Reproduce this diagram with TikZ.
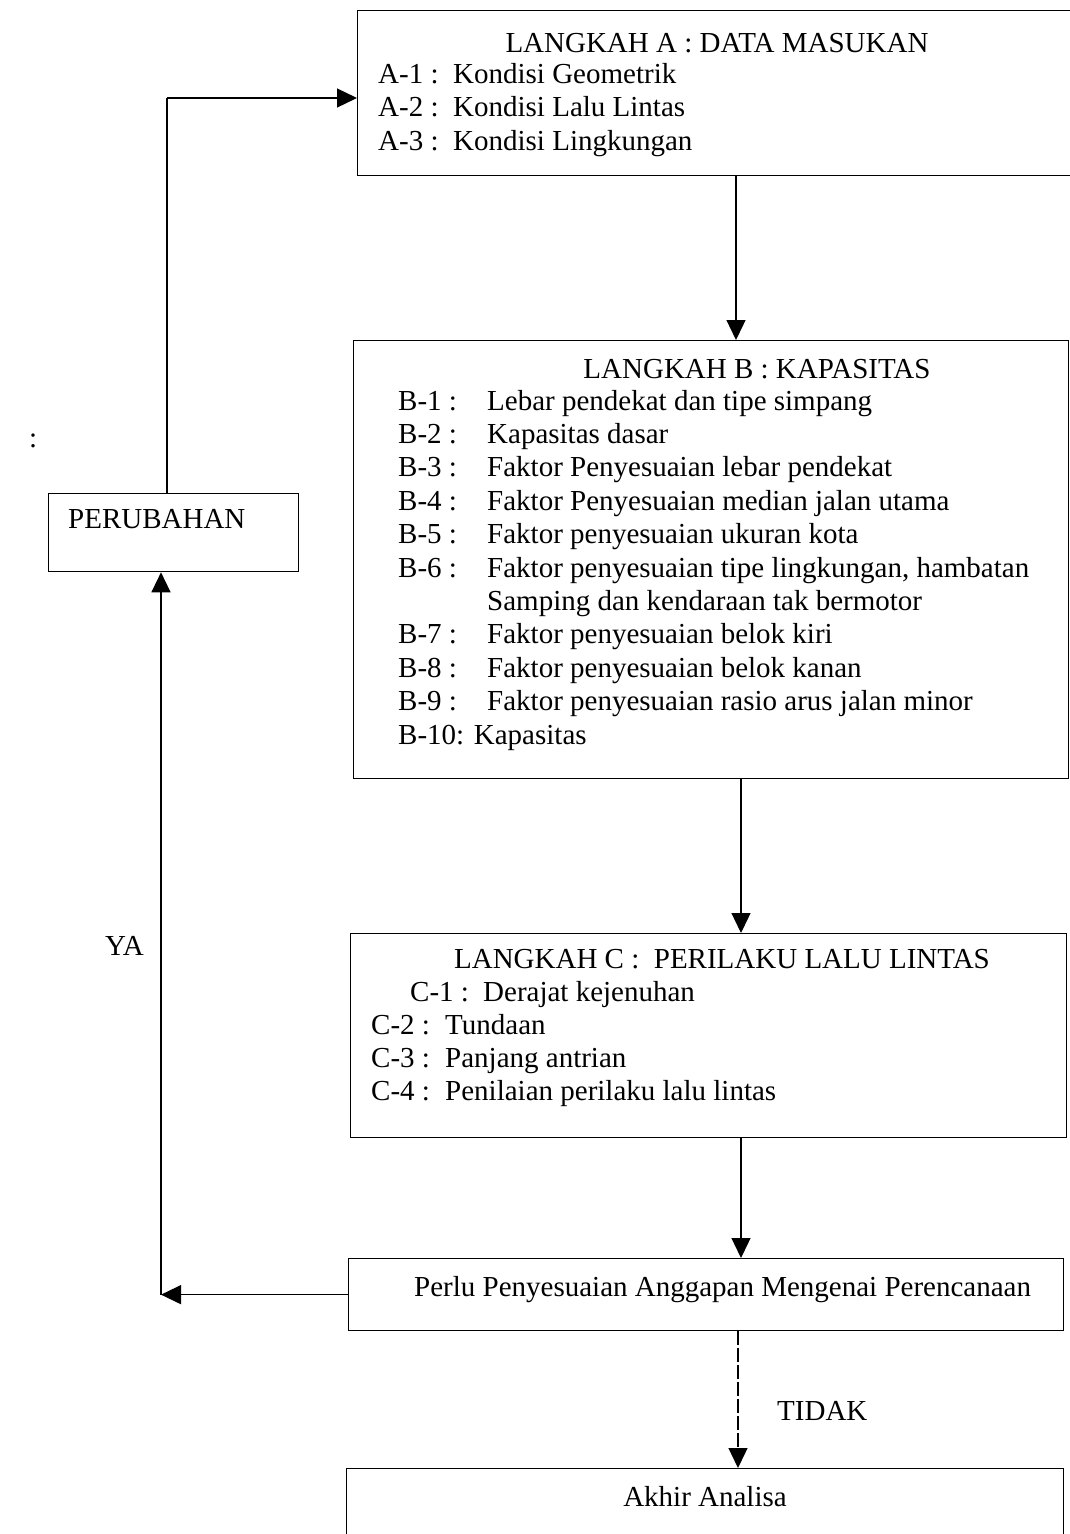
\documentclass[tikz,border=0pt]{standalone}
\usepackage{fontspec}
\setmainfont{Liberation Serif}
\usetikzlibrary{arrows.meta}
\begin{document}
\begin{tikzpicture}[x=1pt,y=-1pt,
  box/.style={draw,line width=1.3pt,inner sep=0pt},
  txt/.style={inner sep=0pt,anchor=base west,font=\fontsize{29}{34}\selectfont},
  ctxt/.style={inner sep=0pt,anchor=base,font=\fontsize{29}{34}\selectfont},
  arr/.style={line width=1.3pt,-{Triangle[length=20pt,width=19pt]}},
  link/.style={line width=1.3pt}]
\useasboundingbox[fill=white] (0,0) rectangle (1070,1534);

% boxes
\node[box,minimum width=733pt,minimum height=165pt,anchor=north west] (A) at (357,10) {};
\node[box,minimum width=715pt,minimum height=438pt,anchor=north west] (B) at (353,340) {};
\node[box,minimum width=716pt,minimum height=204pt,anchor=north west] (C) at (350,933) {};
\node[box,minimum width=715pt,minimum height=72pt,anchor=north west] (P) at (348,1258) {};
\node[box,minimum width=717pt,minimum height=90pt,anchor=north west] (E) at (346,1468) {};
\node[box,minimum width=250pt,minimum height=78pt,anchor=north west] (R) at (48,493) {};

% step A
\node[ctxt] (Ah) at (717,52) {LANGKAH A : DATA MASUKAN};
\node[txt] (A1l) at (378,83) {A-1 :};  \node[txt] (A1) at (453,83) {Kondisi Geometrik};
\node[txt] (A2l) at (378,116) {A-2 :}; \node[txt] (A2) at (453,116) {Kondisi Lalu Lintas};
\node[txt] (A3l) at (378,150) {A-3 :}; \node[txt] (A3) at (453,150) {Kondisi Lingkungan};

% step B
\node[ctxt] (Bh) at (757,378) {LANGKAH B : KAPASITAS};
\node[txt] (B1l) at (398,410) {B-1 :}; \node[txt] (B1) at (487,410) {Lebar pendekat dan tipe simpang};
\node[txt] (B2l) at (398,443) {B-2 :}; \node[txt] (B2) at (487,443) {Kapasitas dasar};
\node[txt] (B3l) at (398,476) {B-3 :}; \node[txt] (B3) at (487,476) {Faktor Penyesuaian lebar pendekat};
\node[txt] (B4l) at (398,510) {B-4 :}; \node[txt] (B4) at (487,510) {Faktor Penyesuaian median jalan utama};
\node[txt] (B5l) at (398,543) {B-5 :}; \node[txt] (B5) at (487,543) {Faktor penyesuaian ukuran kota};
\node[txt] (B6l) at (398,577) {B-6 :}; \node[txt] (B6) at (487,577) {Faktor penyesuaian tipe lingkungan, hambatan};
\node[txt] (B6b) at (487,610) {Samping dan kendaraan tak bermotor};
\node[txt] (B7l) at (398,643) {B-7 :}; \node[txt] (B7) at (487,643) {Faktor penyesuaian belok kiri};
\node[txt] (B8l) at (398,677) {B-8 :}; \node[txt] (B8) at (487,677) {Faktor penyesuaian belok kanan};
\node[txt] (B9l) at (398,710) {B-9 :}; \node[txt] (B9) at (487,710) {Faktor penyesuaian rasio arus jalan minor};
\node[txt] (B10) at (398,744) {B-10: Kapasitas};

% step C
\node[ctxt] (Ch) at (722,968) {LANGKAH C :\ \ PERILAKU LALU LINTAS};
\node[txt] (C1l) at (410,1001) {C-1 :}; \node[txt] (C1) at (483,1001) {Derajat kejenuhan};
\node[txt] (C2l) at (371,1034) {C-2 :}; \node[txt] (C2) at (445,1034) {Tundaan};
\node[txt] (C3l) at (371,1067) {C-3 :}; \node[txt] (C3) at (445,1067) {Panjang antrian};
\node[txt] (C4l) at (371,1100) {C-4 :}; \node[txt] (C4) at (445,1100) {Penilaian perilaku lalu lintas};

% decision, end, change
\node[txt] (Pt) at (414,1296) {Perlu Penyesuaian Anggapan Mengenai Perencanaan};
\node[ctxt] (Et) at (705,1506) {Akhir Analisa};
\node[txt] (Rt) at (68,528) {PERUBAHAN};

% labels
\node[txt] (ya) at (105,955) {YA};
\node[txt] (tidak) at (777,1420) {TIDAK};
\node[txt] (colon) at (29,447) {:};

% connectors
\coordinate (ca) at (736,0);
\coordinate (cb) at (741,0);
\coordinate (cd) at (738,0);
\coordinate (cl) at (161,0);
\coordinate (cu) at (167,98);
\draw[arr] (A.south -| ca) -- (B.north -| ca);
\draw[arr] (B.south -| cb) -- (C.north -| cb);
\draw[arr] (C.south -| cb) -- (P.north -| cb);
\draw[arr,dash pattern=on 14pt off 3pt] (P.south -| cd) -- (E.north -| cd);
\draw[arr] (P.west) -- (P.west -| cl);
\draw[arr] (P.west -| cl) -- (R.south -| cl);
\draw[link] (R.north -| cu) -- (cu);
\draw[arr] (cu) -- (cu -| A.west);
\end{tikzpicture}
\end{document}
